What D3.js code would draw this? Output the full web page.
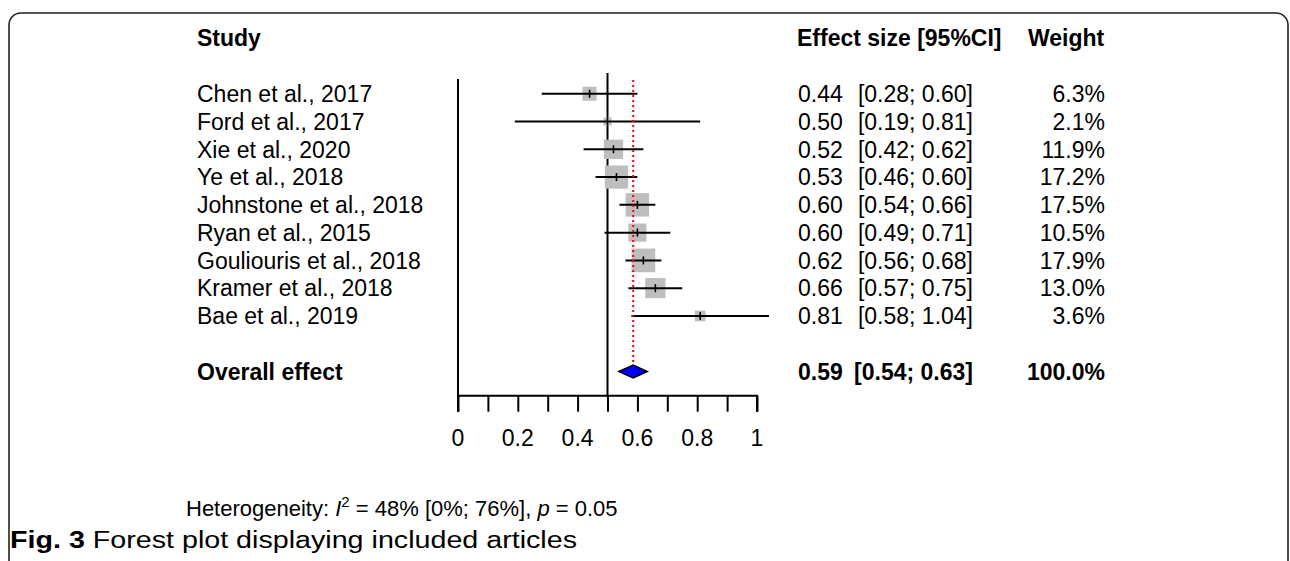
<!DOCTYPE html>
<html>
<head>
<meta charset="utf-8">
<script src="https://cdn.jsdelivr.net/npm/d3@7"></script>
<style>
  html, body { margin: 0; padding: 0; background: #fff; }
  svg { display: block; }
  text { font-family: "Liberation Sans", Arial, Helvetica, sans-serif; fill: #000; }
</style>
</head>
<body>
<svg id="chart" width="1290" height="561"></svg>
<script>
// ---- data ----
const studies = ["Chen et al., 2017", "Ford et al., 2017", "Xie et al., 2020", "Ye et al., 2018",
  "Johnstone et al., 2018", "Ryan et al., 2015", "Gouliouris et al., 2018", "Kramer et al., 2018", "Bae et al., 2019"];
const estimates = [0.44, 0.50, 0.52, 0.53, 0.60, 0.60, 0.62, 0.66, 0.81];
const lowers    = [0.28, 0.19, 0.42, 0.46, 0.54, 0.49, 0.56, 0.57, 0.58];
const uppers    = [0.60, 0.81, 0.62, 0.60, 0.66, 0.71, 0.68, 0.75, 1.04];
const weights   = [6.3, 2.1, 11.9, 17.2, 17.5, 10.5, 17.9, 13.0, 3.6];
const overall   = { label: "Overall effect", est: 0.586, lo: 0.538, hi: 0.633, text: "0.59", ci: "[0.54; 0.63]", weight: "100.0%" };
const refValue  = 0.5;
const xTicks      = [0, 0.1, 0.2, 0.3, 0.4, 0.5, 0.6, 0.7, 0.8, 0.9, 1];
const xTickLabels = [0, 0.2, 0.4, 0.6, 0.8, 1];
const headers = { study: "Study", effect: "Effect size [95%CI]", weight: "Weight" };
const heterogeneity = { pre: "Heterogeneity: ", i: "I", sup: "2", post: " = 48% [0%; 76%], ", p: "p", end: " = 0.05" };
const caption = { bold: "Fig. 3", rest: " Forest plot displaying included articles" };

// ---- layout ----
const svg = d3.select("#chart");
const x = d3.scaleLinear().domain([0, 1]).range([458, 757]);
const y = d3.scaleLinear().domain([0, 12]).range([38.2, 371.5]); // row index -> y
const size = d3.scaleSqrt().domain([0, 17.9]).range([0, 23.7]);
const fmt = d3.format(".2f");
const FS = 23;
const axisY = 395.7;

// frame
svg.append("rect").attr("x", 9).attr("y", 13).attr("width", 1279).attr("height", 640)
  .attr("rx", 12).attr("ry", 12).attr("fill", "none").attr("stroke", "#222").attr("stroke-width", 1.6);

// headers
svg.append("text").attr("x", 197).attr("y", y(0)).attr("dy", "0.36em")
  .attr("font-size", FS).attr("font-weight", "bold").text(headers.study);
svg.append("text").attr("x", 797).attr("y", y(0)).attr("dy", "0.36em")
  .attr("font-size", FS).attr("font-weight", "bold").text(headers.effect);
svg.append("text").attr("x", 1028).attr("y", y(0)).attr("dy", "0.36em")
  .attr("font-size", FS).attr("font-weight", "bold").text(headers.weight);

// vertical lines
svg.append("line").attr("x1", x(0)).attr("x2", x(0)).attr("y1", 79).attr("y2", axisY)
  .attr("stroke", "#000").attr("stroke-width", 2);
svg.append("line").attr("x1", x(refValue)).attr("x2", x(refValue)).attr("y1", 73).attr("y2", axisY)
  .attr("stroke", "#000").attr("stroke-width", 2);

// rows
const rows = studies.map((s, i) => ({ s, est: estimates[i], lo: lowers[i], hi: uppers[i], w: weights[i], r: i + 2 }));

const g = svg.append("g");
// squares
g.selectAll("rect.sq").data(rows).join("rect").attr("class", "sq")
  .attr("x", d => x(d.est) - size(d.w) / 2).attr("y", d => y(d.r) - size(d.w) / 2)
  .attr("width", d => size(d.w)).attr("height", d => size(d.w))
  .attr("fill", "#bebebe");

// red dotted overall line
svg.append("line").attr("x1", x(overall.est)).attr("x2", x(overall.est)).attr("y1", 80).attr("y2", y(12) - 6)
  .attr("stroke", "#ff0000").attr("stroke-width", 2).attr("stroke-dasharray", "2,3");

// CI lines
g.selectAll("line.ci").data(rows).join("line").attr("class", "ci")
  .attr("x1", d => x(d.lo)).attr("x2", d => x(d.hi))
  .attr("y1", d => y(d.r)).attr("y2", d => y(d.r))
  .attr("stroke", "#000").attr("stroke-width", 2);
// point ticks
g.selectAll("line.pt").data(rows).join("line").attr("class", "pt")
  .attr("x1", d => x(d.est)).attr("x2", d => x(d.est))
  .attr("y1", d => y(d.r) - 4).attr("y2", d => y(d.r) + 4)
  .attr("stroke", "#000").attr("stroke-width", 1.6);

// study labels
g.selectAll("text.lab").data(rows).join("text").attr("class", "lab")
  .attr("x", 197).attr("y", d => y(d.r)).attr("dy", "0.36em").attr("font-size", FS).text(d => d.s);
g.selectAll("text.est").data(rows).join("text").attr("class", "est")
  .attr("x", 798).attr("y", d => y(d.r)).attr("dy", "0.36em").attr("font-size", FS).text(d => fmt(d.est));
g.selectAll("text.ci").data(rows).join("text").attr("class", "ci")
  .attr("x", 973).attr("text-anchor", "end").attr("y", d => y(d.r)).attr("dy", "0.36em").attr("font-size", FS)
  .text(d => `[${fmt(d.lo)}; ${fmt(d.hi)}]`);
g.selectAll("text.w").data(rows).join("text").attr("class", "w")
  .attr("x", 1105).attr("text-anchor", "end").attr("y", d => y(d.r)).attr("dy", "0.36em").attr("font-size", FS)
  .text(d => d.w.toFixed(1) + "%");

// overall row
const oy = y(12);
svg.append("path")
  .attr("d", `M${x(overall.lo)},${oy} L${x(overall.est)},${oy - 6.5} L${x(overall.hi)},${oy} L${x(overall.est)},${oy + 6.5} Z`)
  .attr("fill", "#0000ff").attr("stroke", "#000").attr("stroke-width", 1.5);
svg.append("text").attr("x", 197).attr("y", oy).attr("dy", "0.36em").attr("font-size", FS)
  .attr("font-weight", "bold").text(overall.label);
svg.append("text").attr("x", 798).attr("y", oy).attr("dy", "0.36em").attr("font-size", FS)
  .attr("font-weight", "bold").text(overall.text);
svg.append("text").attr("x", 973).attr("text-anchor", "end").attr("y", oy).attr("dy", "0.36em").attr("font-size", FS)
  .attr("font-weight", "bold").text(overall.ci);
svg.append("text").attr("x", 1105).attr("text-anchor", "end").attr("y", oy).attr("dy", "0.36em").attr("font-size", FS)
  .attr("font-weight", "bold").text(overall.weight);

// x axis
const axis = d3.axisBottom(x).tickValues(xTicks).tickSize(16).tickFormat("");
const ag = svg.append("g").attr("transform", `translate(0,${axisY})`).call(axis);
ag.select(".domain").attr("stroke", "#000").attr("stroke-width", 2).attr("d", `M${x(0)},16V0H${x(1)}V16`);
ag.selectAll(".tick line").attr("stroke", "#000").attr("stroke-width", 2);
svg.selectAll("text.tl").data(xTickLabels).join("text").attr("class", "tl")
  .attr("x", d => x(d)).attr("y", 438).attr("dy", "0.36em").attr("text-anchor", "middle")
  .attr("font-size", FS).text(d => d3.format("")(d));

// heterogeneity
const ht = svg.append("text").attr("x", 186).attr("y", 516).attr("font-size", 22);
ht.append("tspan").text(heterogeneity.pre);
ht.append("tspan").attr("font-style", "italic").text(heterogeneity.i);
ht.append("tspan").attr("dy", -9).attr("font-size", 15).text(heterogeneity.sup);
ht.append("tspan").attr("dy", 9).text(heterogeneity.post);
ht.append("tspan").attr("font-style", "italic").text(heterogeneity.p);
ht.append("tspan").text(heterogeneity.end);

// caption
const ct = svg.append("text").attr("x", 10).attr("y", 548).attr("font-size", 23).attr("fill", "#222")
  .attr("textLength", 567).attr("lengthAdjust", "spacingAndGlyphs");
ct.append("tspan").attr("font-weight", "bold").text(caption.bold);
ct.append("tspan").text(caption.rest);
</script>
</body>
</html>
